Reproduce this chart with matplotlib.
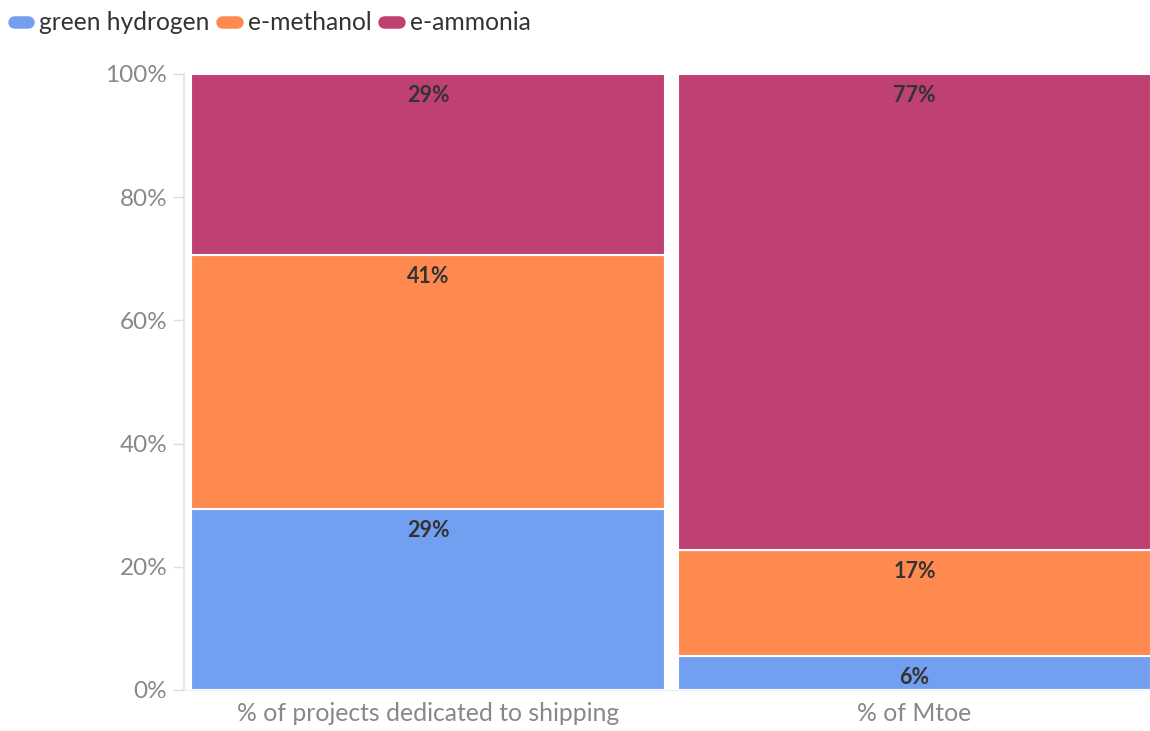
#Stacked 100% bar chart: shipping share of green hydrogen, e-methanol and e-ammonia
import numpy as np
import matplotlib.pyplot as plt
from matplotlib.lines import Line2D

plt.rcParams['font.family'] = ['Lato', 'DejaVu Sans']

#data (percent)
categories = ['% of projects dedicated to shipping', '% of Mtoe']
fuels = ['green hydrogen', 'e-methanol', 'e-ammonia']
green_hydrogen = [29.4, 5.5]
e_methanol = [41.2, 17.2]
e_ammonia = [29.4, 77.3]
shown_labels = [['29%', '6%'], ['41%', '17%'], ['29%', '77%']]
colors = ['#729ff0', '#ff8a50', '#bf4174']

fig = plt.figure(figsize=(11.5, 7.31), dpi=100)
ax = fig.add_axes([0.16, 0.0561, 0.84, 0.8427])

x = np.arange(len(categories))
bottom = np.zeros(len(categories))
for series, name, col, labs in zip([green_hydrogen, e_methanol, e_ammonia], fuels, colors, shown_labels):
    bars = ax.bar(x, series, bottom=bottom, width=0.974, color=col,
                  edgecolor='white', linewidth=1.5, label=name)
    bottom = bottom + np.array(series)
    #label sits just under the top of each segment
    for b, txt in zip(bars, labs):
        ax.annotate(txt, (b.get_x() + b.get_width() / 2, b.get_y() + b.get_height()),
                    xytext=(0, -8), textcoords='offset points', ha='center', va='top',
                    fontsize=15.5, fontweight='bold', color='#333333')

ax.set_xlim(-0.502, 1.484)
ax.set_ylim(0, 100)
ax.set_yticks(np.arange(0, 101, 20))
ax.set_yticklabels([f'{v}%' for v in range(0, 101, 20)])
ax.set_xticks(x)
ax.set_xticklabels(categories)
ax.tick_params(axis='y', length=8, width=1, color='#dddddd', labelcolor='#888888',
               labelsize=17.5, pad=4)
ax.tick_params(axis='x', length=0, labelcolor='#888888', labelsize=17.8, pad=9)

for side in ['top', 'right']:
    ax.spines[side].set_visible(False)
ax.spines['left'].set_color('#e2e2e2')
ax.spines['bottom'].set_color('#eeeeee')
ax.spines['left'].set_linewidth(1.2)

#pill shaped legend markers at the top left
handles = [Line2D([0], [0], color=c, lw=9, solid_capstyle='round') for c in colors]
fig.legend(handles, fuels, loc='upper left', bbox_to_anchor=(0.0, 1.003), ncol=3,
           frameon=False, fontsize=17.7, handlelength=0.6, handletextpad=0.45,
           columnspacing=0.5, borderaxespad=0.15, labelcolor='#333333')

plt.savefig('out.png', dpi=100)
